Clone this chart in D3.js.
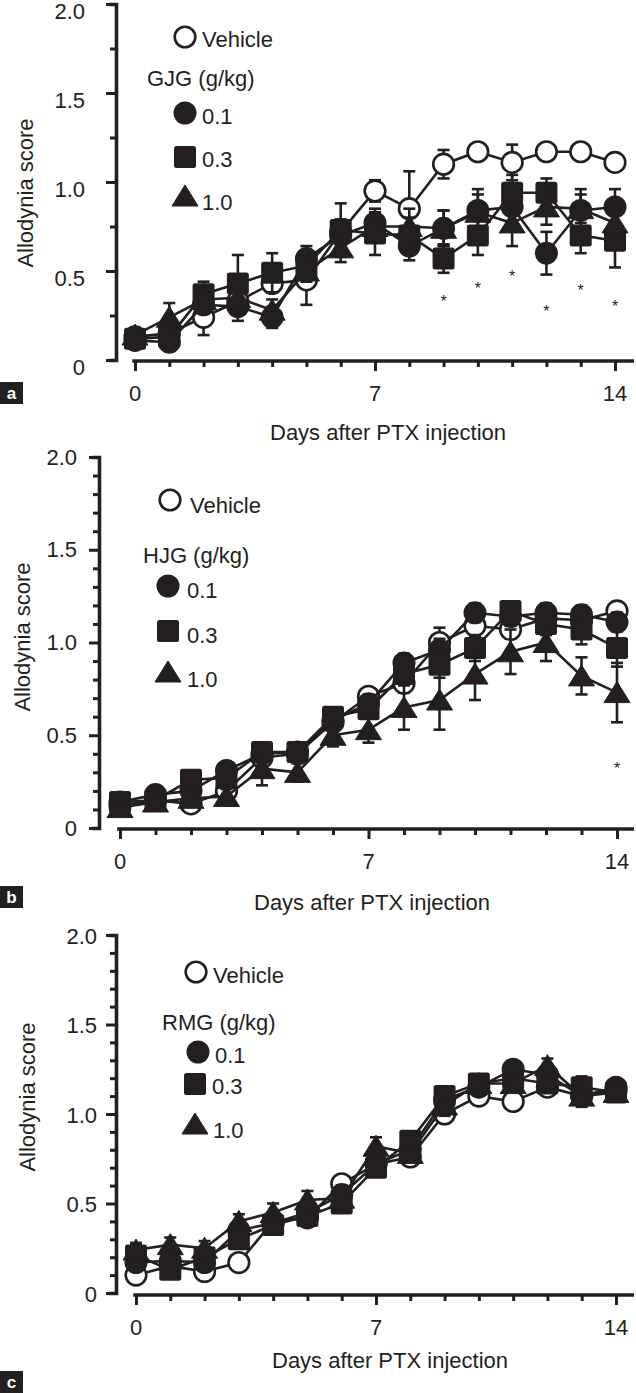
<!DOCTYPE html>
<html><head><meta charset="utf-8">
<script src="https://cdn.jsdelivr.net/npm/d3@7"></script>
<style>
body{margin:0;background:#fff}
svg{display:block}
text{font-family:"Liberation Sans",Arial,Helvetica,sans-serif;fill:#231f20}
</style>
</head><body>
<svg id="chart" width="636" height="1393"></svg>
<script>
// ---------- data ----------
const days = [0,1,2,3,4,5,6,7,8,9,10,11,12,13,14];
const xLabelDays = [0,7,14];
const xTickLabels = ["0","7","14"];
const yLabelValues = [0,0.5,1,1.5,2];
const yTickLabels = ["0","0.5","1.0","1.5","2.0"];
const yTicksA = [0,0.25,0.5,0.75,1,1.25,1.5,1.75,2];
const yTicksBC = [0,0.1,0.2,0.3,0.4,0.5,0.6,0.7,0.8,0.9,1,1.1,1.2,1.3,1.4,1.5,1.6,1.7,1.8,1.9,2];
const panelLetters = ["a","b","c"];
const legendTitles = ["GJG (g/kg)","HJG (g/kg)","RMG (g/kg)"];
const vehicleLabel = "Vehicle";
const doseLabels = ["0.1","0.3","1.0"];
const yTitle = "Allodynia score";
const xTitle = "Days after PTX injection";

// Panel a: GJG
const gjgVehicle    = [0.13,0.15,0.24,0.33,0.43,0.45,0.72,0.95,0.85,1.10,1.17,1.11,1.17,1.17,1.11];
const gjgVehicleSem = [0.04,0.04,0.10,0.05,0.04,0.14,0.07,0.06,0.21,0.08,0.04,0.10,0.04,0.04,0.04];
const gjg01    = [0.11,0.10,0.31,0.30,0.24,0.57,0.70,0.77,0.64,0.74,0.84,0.86,0.60,0.84,0.86];
const gjg01Sem = [0.04,0.05,0.05,0.08,0.06,0.07,0.08,0.08,0.08,0.10,0.12,0.10,0.12,0.12,0.10];
const gjg03    = [0.12,0.13,0.37,0.43,0.49,0.53,0.73,0.71,0.70,0.57,0.70,0.94,0.94,0.70,0.67];
const gjg03Sem = [0.05,0.05,0.07,0.16,0.11,0.08,0.15,0.12,0.10,0.08,0.11,0.10,0.08,0.10,0.15];
const gjg10    = [0.14,0.24,0.34,0.35,0.28,0.50,0.63,0.75,0.75,0.74,0.83,0.77,0.86,0.85,0.77];
const gjg10Sem = [0.04,0.08,0.05,0.06,0.06,0.06,0.08,0.08,0.10,0.10,0.10,0.13,0.10,0.08,0.10];
const gjgStarDays   = [9,10,11,12,13,14];
const gjgStarLevels = [0.35,0.42,0.49,0.29,0.41,0.32];

// Panel b: HJG
const hjgVehicle    = [0.12,0.15,0.13,0.20,0.38,0.40,0.57,0.71,0.78,1.00,1.09,1.07,1.13,1.12,1.17];
const hjgVehicleSem = [0.03,0.03,0.03,0.03,0.04,0.04,0.04,0.04,0.05,0.08,0.06,0.05,0.05,0.06,0.04];
const hjg01    = [0.14,0.18,0.20,0.31,0.40,0.41,0.58,0.67,0.89,0.96,1.16,1.14,1.16,1.15,1.11];
const hjg01Sem = [0.03,0.03,0.04,0.04,0.04,0.04,0.05,0.05,0.05,0.06,0.05,0.05,0.05,0.05,0.05];
const hjg03    = [0.14,0.15,0.26,0.27,0.41,0.41,0.60,0.64,0.83,0.88,0.97,1.17,1.10,1.07,0.97];
const hjg03Sem = [0.03,0.03,0.05,0.04,0.04,0.04,0.04,0.05,0.06,0.07,0.07,0.05,0.06,0.08,0.10];
const hjg10    = [0.11,0.14,0.16,0.17,0.32,0.30,0.50,0.53,0.65,0.69,0.83,0.95,1.00,0.82,0.73];
const hjg10Sem = [0.03,0.03,0.03,0.04,0.09,0.05,0.06,0.07,0.12,0.16,0.14,0.12,0.10,0.10,0.16];
const hjgStarDays   = [14];
const hjgStarLevels = [0.34];

// Panel c: RMG
const rmgVehicle    = [0.10,0.15,0.12,0.17,0.40,0.42,0.61,0.72,0.76,1.00,1.10,1.07,1.15,1.10,1.13];
const rmgVehicleSem = [0.03,0.03,0.03,0.03,0.04,0.04,0.04,0.04,0.04,0.05,0.04,0.04,0.04,0.05,0.04];
const rmg01    = [0.17,0.18,0.17,0.35,0.39,0.45,0.55,0.72,0.80,1.08,1.15,1.25,1.22,1.10,1.15];
const rmg01Sem = [0.04,0.04,0.04,0.05,0.05,0.05,0.05,0.05,0.05,0.05,0.04,0.04,0.04,0.06,0.04];
const rmg03    = [0.21,0.13,0.20,0.30,0.38,0.43,0.50,0.70,0.85,1.10,1.17,1.20,1.17,1.15,1.12];
const rmg03Sem = [0.06,0.03,0.04,0.05,0.05,0.05,0.05,0.05,0.05,0.05,0.04,0.04,0.04,0.06,0.04];
const rmg10    = [0.24,0.27,0.25,0.40,0.45,0.52,0.53,0.82,0.78,1.05,1.17,1.17,1.27,1.10,1.12];
const rmg10Sem = [0.04,0.04,0.04,0.04,0.05,0.05,0.05,0.05,0.05,0.06,0.04,0.04,0.04,0.05,0.04];

// ---------- drawing ----------
const INK = "#231f20";
const svg = d3.select("#chart");

function drawMarker(g, shape, cx, cy) {
  if (shape === "open") {
    g.append("circle").attr("cx", cx).attr("cy", cy).attr("r", 10.3)
      .attr("fill", "#fff").attr("stroke", INK).attr("stroke-width", 2.6);
  } else if (shape === "circle") {
    g.append("circle").attr("cx", cx).attr("cy", cy).attr("r", 11.5).attr("fill", INK);
  } else if (shape === "square") {
    g.append("rect").attr("x", cx - 11).attr("y", cy - 11).attr("width", 22).attr("height", 22)
      .attr("rx", 2.5).attr("fill", INK);
  } else {
    g.append("path").attr("d", `M${cx},${cy - 11} L${cx + 13},${cy + 10} L${cx - 13},${cy + 10} Z`)
      .attr("fill", INK).attr("stroke", INK).attr("stroke-width", 1).attr("stroke-linejoin", "round");
  }
}

function drawPanel(p) {
  const g = svg.append("g");
  const x = d3.scaleLinear().domain([0, 14]).range([p.x0, p.x14]);
  const y = d3.scaleLinear().domain([0, 2]).range([p.y0, p.y2]);

  // Y axis
  const yAxis = d3.axisLeft(y).tickValues(p.yTicks).tickSizeOuter(0).tickSize(5).tickFormat(() => "");
  const ya = g.append("g").attr("transform", `translate(${p.yAxisX},0)`).call(yAxis);
  ya.select(".domain").attr("stroke", INK).attr("stroke-width", 3.6).attr("stroke-linecap", "square");
  ya.selectAll(".tick line").attr("stroke", INK).attr("stroke-width", 3)
    .attr("x2", d => yLabelValues.some(v => Math.abs(v - d) < 1e-9) ? -10 : -6);
  yLabelValues.forEach((v, i) => {
    g.append("text").attr("x", p.yLabelRight).attr("y", y(v) + p.yLabelShift)
      .attr("dy", "0.35em").attr("text-anchor", "end").attr("font-size", 22).text(yTickLabels[i]);
  });

  // X axis
  const xAxis = d3.axisBottom(x).tickValues(days).tickSizeOuter(0).tickSize(5).tickFormat(() => "");
  const xa = g.append("g").attr("transform", `translate(0,${p.xAxisY})`).call(xAxis);
  xa.select(".domain").remove();
  xa.append("line").attr("x1", x(-0.08)).attr("x2", p.xAxisEnd).attr("y1", 0).attr("y2", 0)
    .attr("stroke", INK).attr("stroke-width", 3.6);
  xa.selectAll(".tick line").attr("stroke", INK).attr("stroke-width", 3)
    .attr("y2", d => xLabelDays.includes(d) ? 10 : 6);
  xLabelDays.forEach((d, i) => {
    g.append("text").attr("x", x(d)).attr("y", p.xLabelY).attr("dy", "0.35em")
      .attr("text-anchor", "middle").attr("font-size", 22).text(xTickLabels[i]);
  });

  // Titles
  g.append("text").attr("x", p.xTitleX).attr("y", p.xTitleY).attr("dy", "0.35em")
    .attr("text-anchor", "middle").attr("font-size", 22).text(xTitle);
  g.append("text").attr("transform", `translate(${p.yTitleX},${p.yTitleY}) rotate(-90)`)
    .attr("dy", "0.35em").attr("text-anchor", "middle").attr("font-size", 22).text(yTitle);

  // Panel letter
  g.append("rect").attr("x", 0).attr("y", p.boxY).attr("width", 23).attr("height", 22).attr("fill", INK);
  g.append("text").attr("x", 11.5).attr("y", p.boxY + 11).attr("dy", "0.36em").attr("text-anchor", "middle")
    .attr("font-size", 17).attr("font-weight", "bold").style("fill", "#fff").text(p.letter);

  // Series
  const line = d3.line().x(d => x(d.day)).y(d => y(d.v));
  p.series.forEach(s => {
    const pts = days.map((d, i) => ({day: d, v: s.values[i], e: s.sem[i]}));
    const sg = g.append("g");
    sg.append("path").datum(pts).attr("d", line).attr("fill", "none")
      .attr("stroke", INK).attr("stroke-width", 2.6);
    pts.forEach(pt => {
      const cx = x(pt.day), top = y(pt.v + pt.e), bot = y(pt.v - pt.e);
      sg.append("line").attr("x1", cx).attr("x2", cx).attr("y1", top).attr("y2", bot)
        .attr("stroke", INK).attr("stroke-width", 2.6);
      [top, bot].forEach(yy => sg.append("line").attr("x1", cx - 6).attr("x2", cx + 6)
        .attr("y1", yy).attr("y2", yy).attr("stroke", INK).attr("stroke-width", 2.6));
    });
    pts.forEach(pt => drawMarker(sg, s.shape, x(pt.day), y(pt.v)));
  });

  // Significance stars
  p.starDays.forEach((d, i) => {
    g.append("text").attr("x", x(d)).attr("y", y(p.starLevels[i])).attr("dy", "0.55em")
      .attr("text-anchor", "middle").attr("font-size", 16).text("*");
  });

  // Legend
  const L = p.legend;
  drawMarker(g, "open", L.mx[0], L.my[0]);
  g.append("text").attr("x", L.tx[0]).attr("y", L.ty[0]).attr("font-size", 22).text(vehicleLabel);
  g.append("text").attr("x", L.titleX).attr("y", L.titleY).attr("font-size", 22).text(p.legendTitle);
  ["circle", "square", "triangle"].forEach((shape, i) => {
    drawMarker(g, shape, L.mx[i + 1], L.my[i + 1]);
    g.append("text").attr("x", L.tx[i + 1]).attr("y", L.ty[i + 1]).attr("font-size", 22).text(doseLabels[i]);
  });
}

drawPanel({
  letter: panelLetters[0], legendTitle: legendTitles[0],
  x0: 135, x14: 615, y0: 360, y2: 4, yAxisX: 116, yTicks: yTicksA,
  yLabelRight: 85, yLabelShift: 7, xAxisY: 361, xAxisEnd: 634, xLabelY: 393,
  xTitleX: 388, xTitleY: 432, yTitleX: 25, yTitleY: 193, boxY: 382,
  series: [
    {shape: "open", values: gjgVehicle, sem: gjgVehicleSem},
    {shape: "circle", values: gjg01, sem: gjg01Sem},
    {shape: "square", values: gjg03, sem: gjg03Sem},
    {shape: "triangle", values: gjg10, sem: gjg10Sem}
  ],
  starDays: gjgStarDays, starLevels: gjgStarLevels,
  legend: {mx: [185,185,185,185], my: [37,113,157,196], tx: [202,202,202,202], ty: [47,124,167,210], titleX: 147, titleY: 86}
});

drawPanel({
  letter: panelLetters[1], legendTitle: legendTitles[1],
  x0: 120, x14: 617, y0: 828, y2: 457, yAxisX: 99, yTicks: yTicksBC,
  yLabelRight: 77, yLabelShift: 0, xAxisY: 829, xAxisEnd: 634, xLabelY: 861,
  xTitleX: 372, xTitleY: 902, yTitleX: 22, yTitleY: 637, boxY: 886,
  series: [
    {shape: "open", values: hjgVehicle, sem: hjgVehicleSem},
    {shape: "circle", values: hjg01, sem: hjg01Sem},
    {shape: "square", values: hjg03, sem: hjg03Sem},
    {shape: "triangle", values: hjg10, sem: hjg10Sem}
  ],
  starDays: hjgStarDays, starLevels: hjgStarLevels,
  legend: {mx: [170,168,168,168], my: [500,586,631,672], tx: [190,187,187,187], ty: [513,598,643,687], titleX: 143, titleY: 563}
});

drawPanel({
  letter: panelLetters[2], legendTitle: legendTitles[2],
  x0: 136, x14: 616, y0: 1293, y2: 935, yAxisX: 116, yTicks: yTicksBC,
  yLabelRight: 97, yLabelShift: 1, xAxisY: 1295, xAxisEnd: 634, xLabelY: 1327,
  xTitleX: 390, xTitleY: 1360, yTitleX: 27, yTitleY: 1097, boxY: 1371,
  series: [
    {shape: "open", values: rmgVehicle, sem: rmgVehicleSem},
    {shape: "circle", values: rmg01, sem: rmg01Sem},
    {shape: "square", values: rmg03, sem: rmg03Sem},
    {shape: "triangle", values: rmg10, sem: rmg10Sem}
  ],
  starDays: [], starLevels: [],
  legend: {mx: [196,198,195,195], my: [972,1052,1084,1124], tx: [213,215,212,213], ty: [983,1063,1094,1138], titleX: 162, titleY: 1030}
});
</script>
</body></html>
